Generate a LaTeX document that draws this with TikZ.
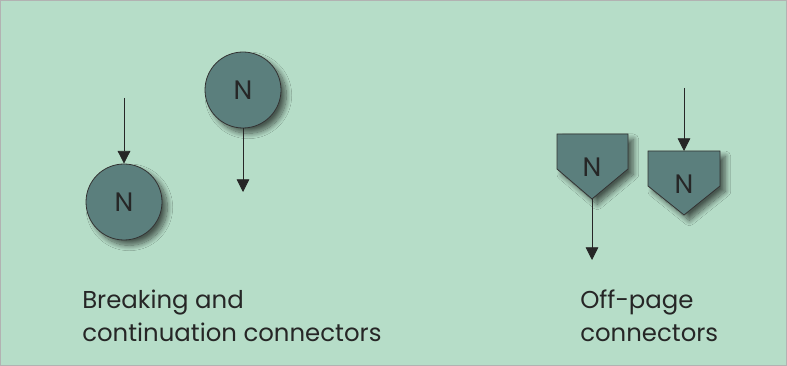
\documentclass[tikz,border=0pt]{standalone}
\usepackage{fontspec}
\setmainfont{Poppins}
\usepackage{tikz}
\usetikzlibrary{arrows.meta,shadows.blur}
\definecolor{bgmint}{HTML}{B6DDC8}
\definecolor{connfill}{HTML}{5B7F7D}
\begin{document}
\begin{tikzpicture}[x=0.75pt,y=-0.75pt,
  every node/.style={font=\fontsize{18.3}{24.5}\selectfont,text=black!85},
  connshade/.style={fill=connfill,draw=black!80,line width=0.6pt,
    blur shadow={shadow xshift=4pt,shadow yshift=-4pt,shadow blur radius=4pt,shadow blur steps=14,shadow opacity=60}},
  flowline/.style={draw=black!85,line width=0.6pt,-{Triangle[length=9.5pt,width=9.5pt]}},
  letter/.style={font=\fontsize{20}{24}\selectfont}]
\useasboundingbox (0,0) rectangle (787,366);
\fill[bgmint] (0,0) rectangle (787,366);
\draw[black!30,line width=0.5pt] (0.5,0.5) rectangle (786.5,365.5);
% breaking and continuation connectors
\node[connshade,circle,minimum size=57pt,inner sep=0pt,letter] (brk) at (124,202) {N};
\node[connshade,circle,minimum size=57pt,inner sep=0pt,letter] (cont) at (243,90) {N};
\coordinate (brkin) at (124,98);
\coordinate (contout) at (243,192);
\draw[flowline] (brkin) -- (brk.north);
\draw[flowline] (cont.south) -- (contout);
% off-page connectors
\draw[connshade] (557,134) -- (628,134) -- (628,169) -- (592,199) -- (557,169) -- cycle;
\coordinate (offa) at (592,199);
\node[letter] (offalbl) at (592,167) {N};
\draw[connshade] (648,151) -- (720,151) -- (720,186) -- (684,215) -- (648,186) -- cycle;
\coordinate (offb) at (684,151);
\node[letter] (offblbl) at (684,184) {N};
\coordinate (offaout) at (592,260);
\coordinate (offbin) at (684,88);
\draw[flowline] (offa) -- (offaout);
\draw[flowline] (offbin) -- (offb);
% captions
\node[anchor=base west,align=left,inner sep=0pt] (lblbreak) at (82,341.5) {Breaking and\\continuation connectors};
\node[anchor=base west,align=left,inner sep=0pt] (lbloff) at (580,341.5) {Off-page\\connectors};
\end{tikzpicture}
\end{document}
